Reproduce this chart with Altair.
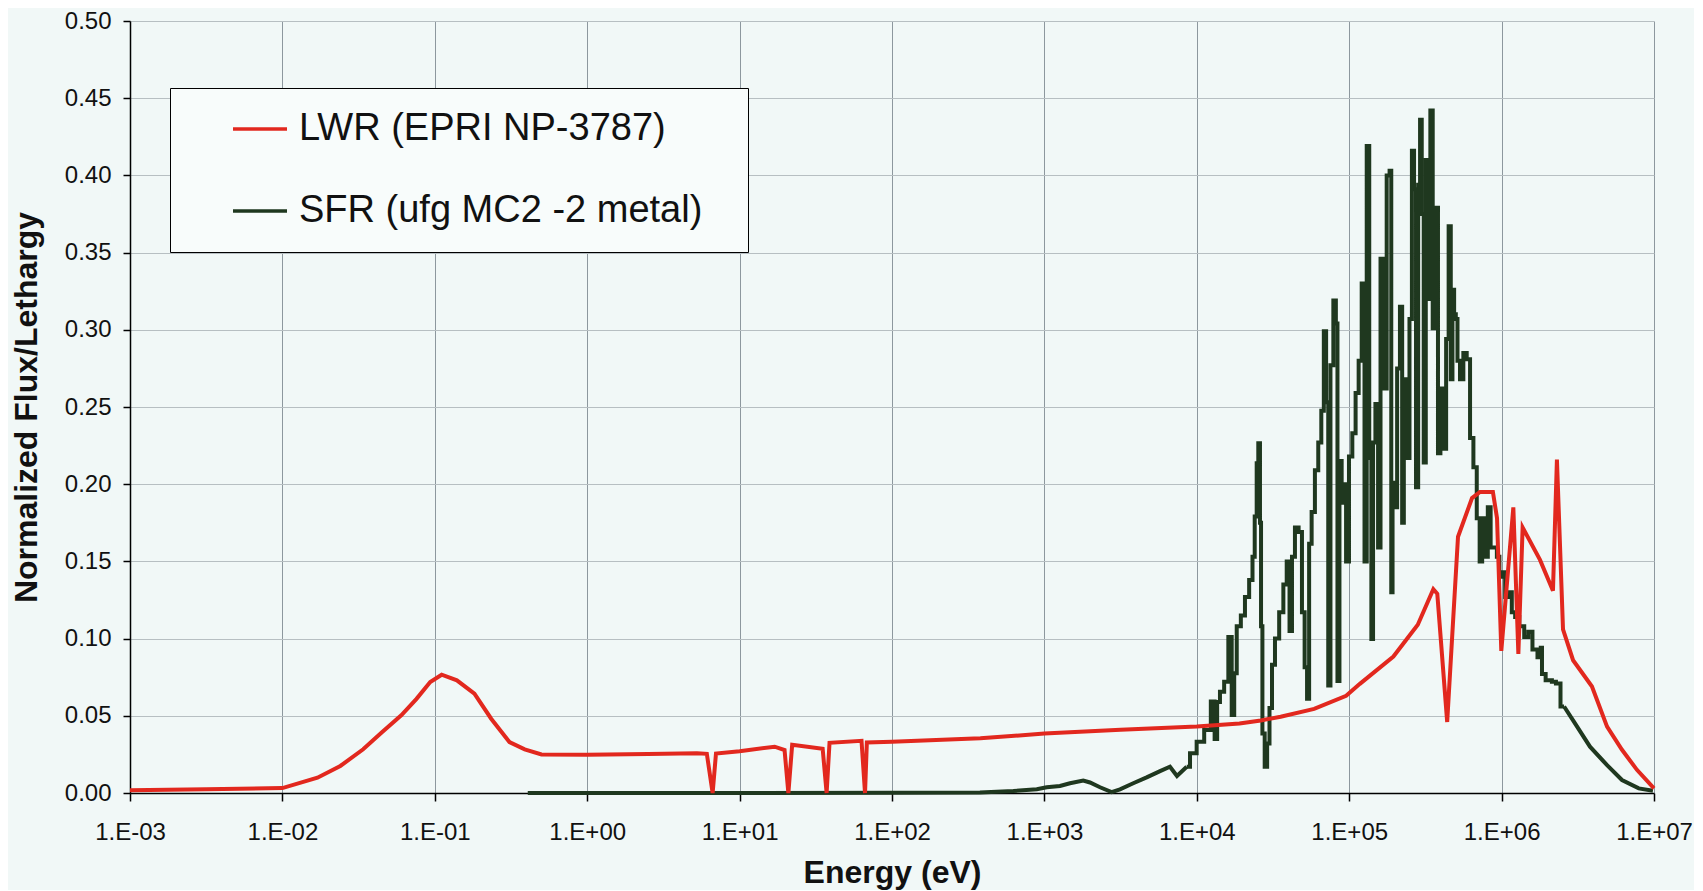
import json
import altair as alt
import pandas as pd

SERIES = ["LWR (EPRI NP-3787)", "SFR (ufg MC2 -2 metal)"]
COLORS = ["#e2281e", "#1f381f"]

X_TICKS = [1e-3, 1e-2, 1e-1, 1e0, 1e1, 1e2, 1e3, 1e4, 1e5, 1e6, 1e7]
X_TICK_LABELS = ["1.E-03", "1.E-02", "1.E-01", "1.E+00", "1.E+01", "1.E+02",
                 "1.E+03", "1.E+04", "1.E+05", "1.E+06", "1.E+07"]
Y_TICKS = [0.0, 0.05, 0.10, 0.15, 0.20, 0.25, 0.30, 0.35, 0.40, 0.45, 0.50]

# log10(energy / eV) and normalized flux per lethargy
LWR_LOG_E = [-3.00, -2.50, -2.00, -1.77, -1.62, -1.47, -1.345, -1.22, -1.12, -1.03,
             -0.955, -0.855, -0.74, -0.63, -0.51, -0.41, -0.30, 0.00, 0.40, 0.72,
             0.785, 0.823, 0.845, 1.00, 1.23, 1.295, 1.320, 1.345, 1.545, 1.571,
             1.590, 1.800, 1.823, 1.835, 2.00, 2.58, 3.00, 3.50, 4.00, 4.28,
             4.42, 4.55, 4.77, 4.98, 5.07, 5.29, 5.45, 5.552, 5.578, 5.643,
             5.714, 5.806, 5.858, 5.943, 5.970, 5.998, 6.077, 6.110, 6.138, 6.252,
             6.337, 6.363, 6.403, 6.469, 6.593, 6.692, 6.790, 6.888, 7.00]
LWR_FLUX = [0.0018, 0.0024, 0.0032, 0.0099, 0.0175, 0.0283, 0.0395, 0.0503, 0.0610, 0.0719,
            0.0766, 0.0730, 0.0643, 0.0481, 0.0330, 0.0283, 0.0250, 0.0248, 0.0252, 0.0258,
            0.0254, 0.0000, 0.0255, 0.0270, 0.0300, 0.0278, 0.0000, 0.0312, 0.0287, 0.0000,
            0.0325, 0.0338, 0.0000, 0.0327, 0.0332, 0.0354, 0.0385, 0.0410, 0.0430, 0.0450,
            0.0470, 0.0494, 0.0545, 0.0630, 0.0707, 0.0884, 0.1090, 0.1320, 0.1290, 0.0460,
            0.1660, 0.1910, 0.1950, 0.1950, 0.1780, 0.0920, 0.1850, 0.0900, 0.1720, 0.1510,
            0.1310, 0.2160, 0.1060, 0.0860, 0.0690, 0.0430, 0.0280, 0.0150, 0.0030]

SFR_LOG_E = [-0.39, 1.00, 2.00, 2.577, 2.796, 2.950, 3.015, 3.102, 3.168, 3.255,
             3.299, 3.365, 3.441, 3.496, 3.583, 3.671, 3.759, 3.824, 3.870, 3.934,
             3.977, 4.021, 4.076, 4.108, 4.126, 4.141, 4.163, 4.196, 4.218, 4.240,
             4.251, 4.273, 4.305, 4.327, 4.360, 4.371, 4.389, 4.397, 4.410, 4.419,
             4.424, 4.437, 4.454, 4.469, 4.485, 4.502, 4.524, 4.557, 4.579, 4.601,
             4.616, 4.633, 4.655, 4.681, 4.699, 4.716, 4.731, 4.743, 4.764, 4.786,
             4.808, 4.826, 4.841, 4.856, 4.869, 4.885, 4.907, 4.918, 4.928, 4.944,
             4.957, 4.972, 4.987, 5.010, 5.031, 5.053, 5.071, 5.093, 5.108, 5.122,
             5.141, 5.150, 5.163, 5.181, 5.198, 5.213, 5.235, 5.257, 5.273, 5.279,
             5.290, 5.307, 5.322, 5.344, 5.351, 5.366, 5.388, 5.403, 5.420, 5.431,
             5.446, 5.459, 5.471, 5.481, 5.497, 5.508, 5.525, 5.540, 5.556, 5.574,
             5.591, 5.606, 5.628, 5.644, 5.661, 5.672, 5.683, 5.694, 5.705, 5.716,
             5.738, 5.760, 5.782, 5.804, 5.826, 5.848, 5.864, 5.881, 5.899, 5.920,
             5.936, 5.958, 5.980, 5.991, 6.012, 6.035, 6.056, 6.078, 6.100, 6.132,
             6.165, 6.186, 6.219, 6.252, 6.262, 6.268, 6.310, 6.350, 6.363, 6.410,
             6.469, 6.580, 6.692, 6.790, 6.900, 6.993]
SFR_FLUX = [0.0000, 0.0000, 0.0001, 0.0003, 0.0013, 0.0024, 0.0037, 0.0045, 0.0063, 0.0080,
            0.0068, 0.0037, 0.0006, 0.0024, 0.0063, 0.0101, 0.0142, 0.0170, 0.0110, 0.0170,
            0.0257, 0.0332, 0.0408, 0.0592, 0.0350, 0.0590, 0.0656, 0.0720, 0.1010, 0.0505,
            0.0775, 0.1080, 0.1150, 0.1270, 0.1380, 0.1530, 0.1790, 0.2135, 0.2265, 0.1750,
            0.1080, 0.0386, 0.0170, 0.0320, 0.0550, 0.0830, 0.1000, 0.1170, 0.1350, 0.1500,
            0.1050, 0.1530, 0.1720, 0.1690, 0.1170, 0.0815, 0.0610, 0.1615, 0.1820, 0.2090,
            0.2270, 0.2475, 0.2990, 0.2530, 0.0697, 0.2770, 0.3190, 0.3040, 0.0726, 0.2150,
            0.1880, 0.2000, 0.1500, 0.2180, 0.2330, 0.2590, 0.2800, 0.3300, 0.1500, 0.4190,
            0.2170, 0.0997, 0.2270, 0.2520, 0.1590, 0.3460, 0.2620, 0.4000, 0.4030, 0.1300,
            0.2010, 0.1850, 0.2750, 0.3150, 0.1750, 0.2680, 0.2170, 0.3070, 0.4160, 0.3910,
            0.1980, 0.3940, 0.4360, 0.3750, 0.2140, 0.4100, 0.3200, 0.4420, 0.3010, 0.3790,
            0.2200, 0.2620, 0.2230, 0.2940, 0.3670, 0.2680, 0.3260, 0.3100, 0.3070, 0.2800,
            0.2680, 0.2850, 0.2810, 0.2300, 0.2110, 0.1780, 0.1500, 0.1780, 0.1530, 0.1850,
            0.1590, 0.1590, 0.1530, 0.1400, 0.1430, 0.1270, 0.1300, 0.1170, 0.1140, 0.1080,
            0.1010, 0.1045, 0.0930, 0.0880, 0.0940, 0.0770, 0.0730, 0.0720, 0.0710, 0.0560,
            0.0470, 0.0300, 0.0180, 0.0084, 0.0030, 0.0015]

# the group-wise (stepped) part of the SFR spectrum, in log10(eV)
SFR_STEPPED_RANGE = [3.934, 6.41]

lwr = pd.DataFrame({"logE": LWR_LOG_E, "flux": LWR_FLUX, "series": SERIES[0], "part": "lwr"})
sfr = pd.DataFrame({"logE": SFR_LOG_E, "flux": SFR_FLUX, "series": SERIES[1]})
lo, hi = SFR_STEPPED_RANGE
sfr["part"] = "stepped"
sfr.loc[sfr["logE"] < lo, "part"] = "low"
sfr.loc[sfr["logE"] > hi, "part"] = "tail"
# boundary points also close the smooth pieces so the line stays continuous
edge_lo = sfr[sfr["logE"] == lo].assign(part="low")
edge_hi = sfr[sfr["logE"] == hi].assign(part="tail")
df = pd.concat([sfr, edge_lo, edge_hi, lwr], ignore_index=True)
df["energy"] = 10 ** df["logE"]

FONT = "Liberation Sans"
label_expr = json.dumps(X_TICK_LABELS) + "[round(log(datum.value)/LN10)+3]"

x = alt.X(
    "energy:Q",
    scale=alt.Scale(type="log", domain=[1e-3, 1e7], nice=False),
    axis=alt.Axis(
        values=X_TICKS, labelExpr=label_expr, title="Energy (eV)",
        grid=True, gridColor="#8d989e", gridWidth=1,
        domainColor="#000000", domainWidth=1.5, tickColor="#000000", tickWidth=1.5,
        tickSize=8, labelFont=FONT, labelFontSize=24, labelColor="#111111",
        labelPadding=19, labelFlush=False, labelOverlap=False,
        titleFont=FONT, titleFontSize=32, titleFontWeight="bold", titleColor="#111111",
        titleY=89, titleBaseline="alphabetic",
    ),
)
y = alt.Y(
    "flux:Q",
    scale=alt.Scale(domain=[0, 0.5], nice=False),
    axis=alt.Axis(
        values=Y_TICKS, format=".2f", title="Normalized Flux/Lethargy",
        grid=True, gridColor="#b7bfc2", gridWidth=1,
        domainColor="#000000", domainWidth=1.5, tickColor="#000000", tickWidth=1.5,
        tickSize=7, labelFont=FONT, labelFontSize=24, labelColor="#111111",
        labelPadding=12, labelFlush=False, labelOverlap=False,
        titleFont=FONT, titleFontSize=32, titleFontWeight="bold", titleColor="#111111",
        titleX=-94, titleY=386, titleBaseline="alphabetic", titleAlign="center", titleAngle=270,
    ),
)
color = alt.Color(
    "series:N",
    scale=alt.Scale(domain=SERIES, range=COLORS),
    legend=alt.Legend(
        title=None, orient="none", legendX=40, legendY=67, direction="vertical",
        symbolType="stroke", symbolSize=2916, symbolStrokeWidth=3.5,
        symbolOffset=47, labelOffset=10, clipHeight=54,
        labelFont=FONT, labelFontSize=38, labelColor="#111111", labelLimit=1000,
        labelExpr="datum.label + '\u00a0\u00a0\u00a0\u200b'",
        padding=14, rowPadding=28, strokeColor="#000000", fillColor="#f8fcfb",
    ),
)

base = alt.Chart(df).encode(x=x, y=y, color=color, detail="part:N")
sfr_smooth = base.transform_filter(
    (alt.datum.part == "low") | (alt.datum.part == "tail")
).mark_line(strokeWidth=4, strokeJoin="miter")
sfr_step = base.transform_filter(alt.datum.part == "stepped").mark_line(
    strokeWidth=4, strokeJoin="miter", interpolate="step")
lwr_line = base.transform_filter(alt.datum.part == "lwr").mark_line(strokeWidth=4)

chart = alt.layer(sfr_smooth, sfr_step, lwr_line).properties(
    width=1524, height=772,
    background="#f1f8f7",
    autosize=alt.AutoSizeParams(type="none"),
    padding={"left": 122, "top": 13, "right": 40, "bottom": 97},
).configure_view(stroke=None, fill="#f1f8f7")

chart.save("out.html", embed_options={"renderer": "svg", "actions": False})
